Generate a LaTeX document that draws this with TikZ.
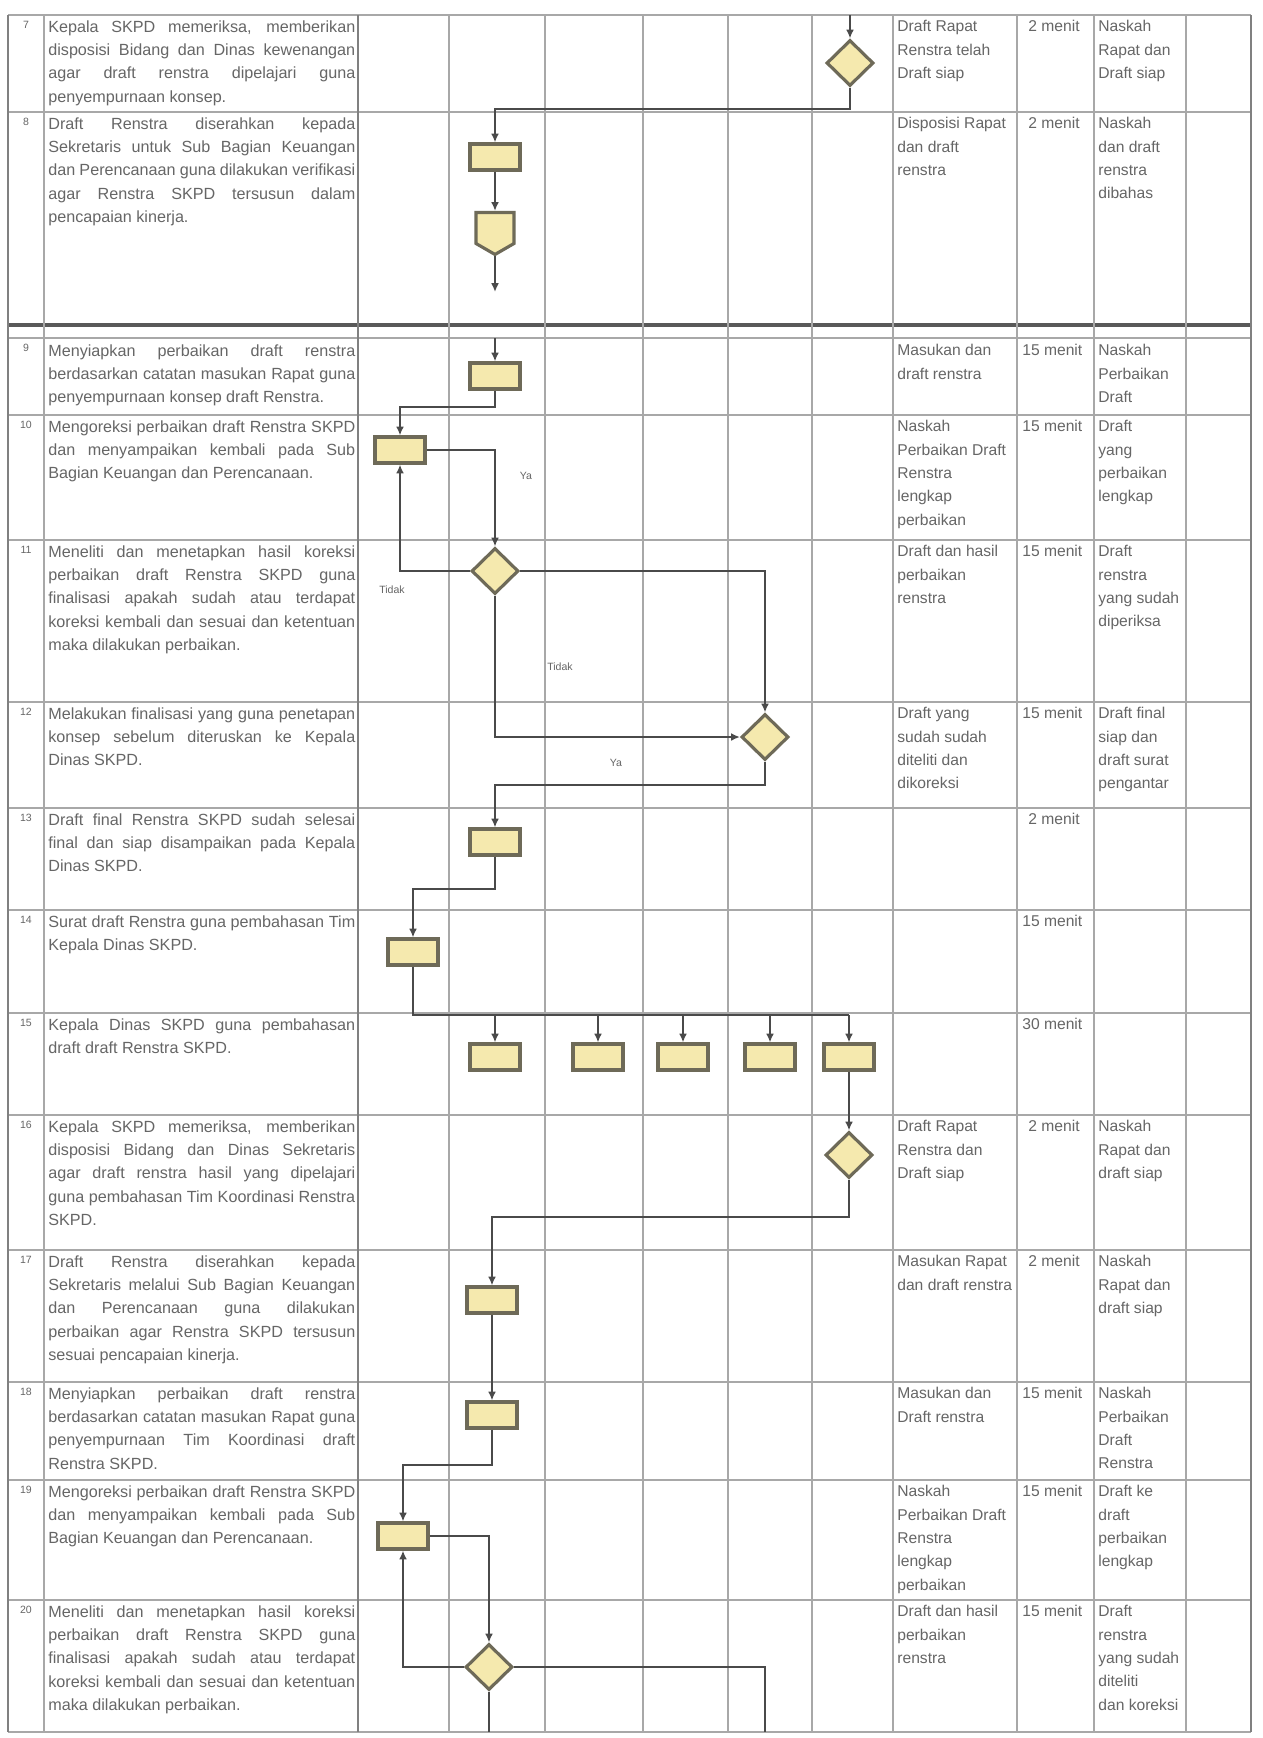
\documentclass[tikz,border=0pt]{standalone}
\usepackage{fontspec}
\setmainfont{Liberation Sans}
\usetikzlibrary{shapes.geometric,shapes.symbols,arrows.meta}
\definecolor{gridc}{HTML}{A8A8A8}
\definecolor{framec}{HTML}{808080}
\definecolor{flowc}{HTML}{4A4A4A}
\definecolor{boxfill}{HTML}{F5E9AE}
\definecolor{boxdraw}{HTML}{6E6A58}
\definecolor{txtc}{HTML}{666666}
\hyphenpenalty=10000
\exhyphenpenalty=10000
\begin{document}
\begin{tikzpicture}[x=0.02cm,y=-0.02cm,
  gridline/.style={draw=gridc, line width=1pt},
  frameline/.style={draw=framec, line width=1.6pt},
  flow/.style={draw=flowc, line width=1.3pt},
  arr/.style={flow, -{Latex[length=5pt,width=4.5pt]}},
  procbox/.style={rectangle, draw=boxdraw, fill=boxfill, line width=1.8pt, minimum width=1.0cm, minimum height=0.52cm, inner sep=0pt},
  decis/.style={diamond, draw=boxdraw, fill=boxfill, line width=1.8pt, minimum width=0.94cm, minimum height=0.92cm, inner sep=0pt},
  offp/.style={signal, signal to=south, signal from=nowhere, signal pointer angle=120, draw=boxdraw, fill=boxfill, line width=1.8pt, minimum width=0.76cm, minimum height=0.62cm, inner sep=0pt},
  desc/.style={anchor=north west, text width=6.14cm, align=justify, font=\fontsize{9.2}{13.3}\selectfont, text=txtc, inner sep=0pt},
  colt/.style={anchor=north west, align=left, font=\fontsize{8.9}{13.3}\selectfont, text=txtc, inner sep=0pt},
  numt/.style={anchor=north, font=\fontsize{6}{7}\selectfont, text=txtc, inner sep=0pt},
  lbl/.style={font=\fontsize{6}{7}\selectfont, text=txtc, inner sep=0pt}]
\useasboundingbox (0,0) rectangle (1262,1738);
\fill[white] (0,0) rectangle (1262,1738);

% ---------- table grid ----------
\foreach \y in {15,112,338,415,540,702,808,910,1013,1115,1250,1382,1480,1600,1732}
  \draw[gridline] (8,\y) -- (1251,\y);
\draw[draw=black!65, line width=2.2pt] (8,325) -- (1251,325);
\foreach \x in {44,449,545,643,728,812,893,1017,1094,1186}
  \draw[gridline] (\x,15) -- (\x,1732);
\foreach \x in {8,358,1251}
  \draw[frameline] (\x,15) -- (\x,1732);

% ---------- numbers ----------
\node[numt] (n1) at (26,21) {7};
\node[numt] (n2) at (26,118) {8};
\node[numt] (n3) at (26,344) {9};
\node[numt] (n4) at (26,421) {10};
\node[numt] (n5) at (26,546) {11};
\node[numt] (n6) at (26,708) {12};
\node[numt] (n7) at (26,814) {13};
\node[numt] (n8) at (26,916) {14};
\node[numt] (n9) at (26,1019) {15};
\node[numt] (n10) at (26,1121) {16};
\node[numt] (n11) at (26,1256) {17};
\node[numt] (n12) at (26,1388) {18};
\node[numt] (n13) at (26,1486) {19};
\node[numt] (n14) at (26,1606) {20};

% ---------- descriptions ----------
\node[desc] (t1) at (48,20) {Kepala SKPD memeriksa, memberikan disposisi Bidang dan Dinas kewenangan agar draft renstra dipelajari guna penyempurnaan konsep.};
\node[desc] (t2) at (48,117) {Draft Renstra diserahkan kepada Sekretaris untuk Sub Bagian Keuangan dan Perencanaan guna dilakukan verifikasi agar Renstra SKPD tersusun dalam pencapaian kinerja.};
\node[desc] (t3) at (48,344) {Menyiapkan perbaikan draft renstra berdasarkan catatan masukan Rapat guna penyempurnaan konsep draft Renstra.};
\node[desc] (t4) at (48,420) {Mengoreksi perbaikan draft Renstra SKPD dan menyampaikan kembali pada Sub Bagian Keuangan dan Perencanaan.};
\node[desc] (t5) at (48,545) {Meneliti dan menetapkan hasil koreksi perbaikan draft Renstra SKPD guna finalisasi apakah sudah atau terdapat koreksi kembali dan sesuai dan ketentuan maka dilakukan perbaikan.};
\node[desc] (t6) at (48,707) {Melakukan finalisasi yang guna penetapan konsep sebelum diteruskan ke Kepala Dinas SKPD.};
\node[desc] (t7) at (48,813) {Draft final Renstra SKPD sudah selesai final dan siap disampaikan pada Kepala Dinas SKPD.};
\node[desc] (t8) at (48,915) {Surat draft Renstra guna pembahasan Tim Kepala Dinas SKPD.};
\node[desc] (t9) at (48,1018) {Kepala Dinas SKPD guna pembahasan draft draft Renstra SKPD.};
\node[desc] (t10) at (48,1120) {Kepala SKPD memeriksa, memberikan disposisi Bidang dan Dinas Sekretaris agar draft renstra hasil yang dipelajari guna pembahasan Tim Koordinasi Renstra SKPD.};
\node[desc] (t11) at (48,1255) {Draft Renstra diserahkan kepada Sekretaris melalui Sub Bagian Keuangan dan Perencanaan guna dilakukan perbaikan agar Renstra SKPD tersusun sesuai pencapaian kinerja.};
\node[desc] (t12) at (48,1387) {Menyiapkan perbaikan draft renstra berdasarkan catatan masukan Rapat guna penyempurnaan Tim Koordinasi draft Renstra SKPD.};
\node[desc] (t13) at (48,1485) {Mengoreksi perbaikan draft Renstra SKPD dan menyampaikan kembali pada Sub Bagian Keuangan dan Perencanaan.};
\node[desc] (t14) at (48,1605) {Meneliti dan menetapkan hasil koreksi perbaikan draft Renstra SKPD guna finalisasi apakah sudah atau terdapat koreksi kembali dan sesuai dan ketentuan maka dilakukan perbaikan.};

% ---------- kelengkapan ----------
\node[colt] (k1) at (897,20) {Draft Rapat\\Renstra telah\\Draft siap};
\node[colt] (k2) at (897,117) {Disposisi Rapat\\dan draft\\renstra};
\node[colt] (k3) at (897,344) {Masukan dan\\draft renstra};
\node[colt] (k4) at (897,420) {Naskah\\Perbaikan Draft\\Renstra\\lengkap\\perbaikan};
\node[colt] (k5) at (897,545) {Draft dan hasil\\perbaikan\\renstra};
\node[colt] (k6) at (897,707) {Draft yang\\sudah sudah\\diteliti dan\\dikoreksi};
\node[colt] (k10) at (897,1120) {Draft Rapat\\Renstra dan\\Draft siap};
\node[colt] (k11) at (897,1255) {Masukan Rapat\\dan draft renstra};
\node[colt] (k12) at (897,1387) {Masukan dan\\Draft renstra};
\node[colt] (k13) at (897,1485) {Naskah\\Perbaikan Draft\\Renstra\\lengkap\\perbaikan};
\node[colt] (k14) at (897,1605) {Draft dan hasil\\perbaikan\\renstra};

% ---------- waktu ----------
\node[colt] (w1) at (1028,20) {2 menit};
\node[colt] (w2) at (1028,117) {2 menit};
\node[colt] (w3) at (1022,344) {15 menit};
\node[colt] (w4) at (1022,420) {15 menit};
\node[colt] (w5) at (1022,545) {15 menit};
\node[colt] (w6) at (1022,707) {15 menit};
\node[colt] (w7) at (1028,813) {2 menit};
\node[colt] (w8) at (1022,915) {15 menit};
\node[colt] (w9) at (1022,1018) {30 menit};
\node[colt] (w10) at (1028,1120) {2 menit};
\node[colt] (w11) at (1028,1255) {2 menit};
\node[colt] (w12) at (1022,1387) {15 menit};
\node[colt] (w13) at (1022,1485) {15 menit};
\node[colt] (w14) at (1022,1605) {15 menit};

% ---------- output ----------
\node[colt] (o1) at (1098,20) {Naskah\\Rapat dan\\Draft siap};
\node[colt] (o2) at (1098,117) {Naskah\\dan draft\\renstra\\dibahas};
\node[colt] (o3) at (1098,344) {Naskah\\Perbaikan\\Draft};
\node[colt] (o4) at (1098,420) {Draft\\yang\\perbaikan\\lengkap};
\node[colt] (o5) at (1098,545) {Draft\\renstra\\yang sudah\\diperiksa};
\node[colt] (o6) at (1098,707) {Draft final\\siap dan\\draft surat\\pengantar};
\node[colt] (o10) at (1098,1120) {Naskah\\Rapat dan\\draft siap};
\node[colt] (o11) at (1098,1255) {Naskah\\Rapat dan\\draft siap};
\node[colt] (o12) at (1098,1387) {Naskah\\Perbaikan\\Draft\\Renstra};
\node[colt] (o13) at (1098,1485) {Draft ke\\draft\\perbaikan\\lengkap};
\node[colt] (o14) at (1098,1605) {Draft\\renstra\\yang sudah\\diteliti\\dan koreksi};

% ---------- flow ----------
\coordinate (a0) at (850,15);
\node[decis] (dA) at (850,63) {};
\draw[arr] (a0) -- (dA.north);
\coordinate (jA) at (850,109);
\node[procbox] (bB) at (495,157) {};
\draw[arr] (dA.south) -- (jA) -| (bB.north);
\node[offp] (oB) at (495,228) {};
\draw[arr] (bB.south) -- (oB.north);
\coordinate (eB) at (495,292);
\draw[arr] (oB.south) -- (eB);

\coordinate (sC) at (495,338);
\node[procbox] (bC) at (495,376) {};
\draw[arr] (sC) -- (bC.north);
\node[procbox] (bD) at (400,450) {};
\coordinate (jC) at (495,407);
\draw[arr] (bC.south) -- (jC) -| (bD.north);
\node[decis] (dE) at (495,571) {};
\draw[arr] (bD.east) -| (dE.north);
\node[lbl] (yaE) at (526,476) {Ya};
\draw[arr] (dE.west) -| (bD.south);
\node[lbl] (tdE) at (392,590) {Tidak};
\node[decis] (dF) at (765,737) {};
\draw[arr] (dE.east) -| (dF.north);
\draw[arr] (dE.south) |- (dF.west);
\node[lbl] (tdE2) at (560,667) {Tidak};
\node[lbl] (yaF) at (616,763) {Ya};

\node[procbox] (bG) at (495,842) {};
\coordinate (jF) at (765,785);
\draw[arr] (dF.south) -- (jF) -| (bG.north);
\node[procbox] (bH) at (413,952) {};
\coordinate (jG) at (495,889);
\draw[arr] (bG.south) -- (jG) -| (bH.north);

\node[procbox] (bI1) at (495,1057) {};
\node[procbox] (bI2) at (598,1057) {};
\node[procbox] (bI3) at (683,1057) {};
\node[procbox] (bI4) at (770,1057) {};
\node[procbox] (bI5) at (849,1057) {};
\coordinate (jH) at (413,1015);
\draw[flow] (bH.south) -- (jH) -- (jH -| bI5.north);
\foreach \b in {bI1,bI2,bI3,bI4,bI5}
  \draw[arr] (\b.north |- jH) -- (\b.north);

\node[decis] (dJ) at (849,1155) {};
\draw[arr] (bI5.south) -- (dJ.north);
\coordinate (jJ) at (849,1217);
\node[procbox] (bK) at (492,1300) {};
\draw[arr] (dJ.south) -- (jJ) -| (bK.north);
\node[procbox] (bL) at (492,1415) {};
\draw[arr] (bK.south) -- (bL.north);
\coordinate (jL) at (492,1465);
\node[procbox] (bM) at (403,1536) {};
\draw[arr] (bL.south) -- (jL) -| (bM.north);
\node[decis] (dN) at (489,1667) {};
\draw[arr] (bM.east) -| (dN.north);
\draw[arr] (dN.west) -| (bM.south);
\coordinate (eN1) at (765,1732);
\coordinate (eN2) at (489,1732);
\draw[flow] (dN.east) -| (eN1);
\draw[flow] (dN.south) -- (eN2);
\end{tikzpicture}
\end{document}
